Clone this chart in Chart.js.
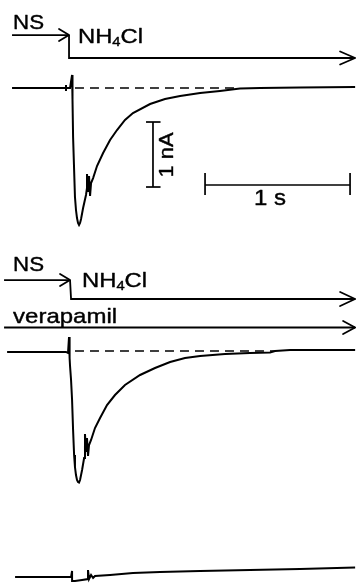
<!DOCTYPE html>
<html>
<head>
<meta charset="utf-8">
<script src="https://cdn.jsdelivr.net/npm/chart.js@4"></script>
<style>
html,body{margin:0;padding:0;background:#fff;}
#wrap{width:356px;height:583px;position:relative;}
</style>
</head>
<body>
<div id="wrap"><canvas id="c"></canvas></div>
<script>
// ---- Data: time (s, 0 = solution change) and current (nA, relative to each trace's baseline)
const trace1T = [-0.400,-0.028,-0.028,-0.028,-0.028,0.000,0.014,0.017,0.021,0.034,0.041,0.048,0.055,0.062,0.069,0.076,0.090,0.110,0.117,0.117,0.124,0.131,0.138,0.145,0.159,0.186,0.228,0.276,0.324,0.379,0.434,0.552,0.655,0.759,0.897,1.034,1.172,1.310,1.586,1.966];
const trace1I = [0,0,0.046,-0.046,0,0,0.200,-0.185,-0.754,-1.677,-1.877,-2.000,-2.077,-2.108,-2.077,-2.015,-1.846,-1.646,-1.538,-1.323,-1.600,-1.354,-1.662,-1.462,-1.385,-1.200,-1.000,-0.800,-0.646,-0.492,-0.385,-0.246,-0.169,-0.123,-0.077,-0.046,-0.008,0,0.008,0.015];

const trace2T = [-0.434,-0.028,-0.014,-0.007,-0.003,0.000,0.007,0.014,0.021,0.028,0.034,0.041,0.048,0.055,0.062,0.069,0.083,0.097,0.103,0.110,0.117,0.124,0.131,0.145,0.172,0.207,0.255,0.310,0.379,0.483,0.586,0.690,0.793,0.897,1.069,1.241,1.379,1.414,1.517,1.966];
const trace2I = [-0.015,-0.015,-0.031,0.215,-0.108,-0.231,-0.446,-0.754,-1.215,-1.600,-1.785,-1.908,-1.985,-2.015,-2.023,-1.985,-1.831,-1.646,-1.277,-1.554,-1.338,-1.615,-1.446,-1.369,-1.185,-1.031,-0.831,-0.677,-0.523,-0.369,-0.262,-0.169,-0.108,-0.077,-0.046,-0.031,-0.023,0,0.015,0.015];

const trace3T = [-0.379,0.007,0.014,0.014,0.034,0.083,0.124,0.124,0.131,0.145,0.159,0.172,0.276,0.434,0.621,0.897,1.241,1.586,1.966];
const trace3I = [0,0,0.092,-0.062,-0.062,-0.046,-0.031,0.108,-0.031,0.031,-0.015,0.015,0.031,0.062,0.077,0.092,0.108,0.123,0.146];

// Dashed reference (baseline) segments
const dash1T = [0.034,1.172];
const dash2T = [0.034,1.414];

// Solution-change bars (time, level above baseline)
const ns1T = [-0.400,-0.007];      const ns1L = [0.815,0.815];
const nh1T = [-0.007,-0.007,1.966]; const nh1L = [0.815,0.462,0.462];
const ns2T = [-0.455,0.000];       const ns2L = [1.092,1.092];
const nh2T = [0.000,0.007,1.966];   const nh2L = [1.092,0.800,0.800];
const verT = [-0.455,1.966];       const verL = [0.362,0.362];

// Scale bars: 1 nA and 1 s
const scaleNA = 1;
const scaleS = 1;

// Text labels
const labels1 = ["NS","NH","4","Cl"];
const verLabel = "verapamil";
const scaleLabels = ["1 nA","1 s"];

// ---- Layout (not data)
const offsets = [0,-4.046,-7.523];
const xMin=-0.483, xMax=1.972, yMin=-7.615, yMax=1.354;

function pts(T,V,off){ return T.map((t,k)=>({x:t,y:V[k]+off})); }
function line(data,w,dash){ return {data,showLine:true,borderColor:'#000',backgroundColor:'#000',borderWidth:w,pointRadius:0,tension:0,borderDash:dash||[],fill:false}; }

const vBarT = 0.572, vBarTop = -0.523, hBarT0 = 0.931, hBarL = -1.492;

const datasets = [
  line(pts(trace1T,trace1I,offsets[0]),2),
  line(pts(trace2T,trace2I,offsets[1]),2),
  line(pts(trace3T,trace3I,offsets[2]),2),
  line(pts(dash1T,[0,0],offsets[0]),1.5,[9,6]),
  line(pts(dash2T,[0,0],offsets[1]),1.5,[9,6]),
  line(pts(ns1T,ns1L,offsets[0]),1.8),
  line(pts(nh1T,nh1L,offsets[0]),1.8),
  line(pts(ns2T,ns2L,offsets[1]),1.8),
  line(pts(nh2T,nh2L,offsets[1]),1.8),
  line(pts(verT,verL,offsets[1]),1.8),
  // vertical 1 nA bar with end ticks
  line([{x:vBarT-0.048,y:vBarTop},{x:vBarT+0.052,y:vBarTop}],1.7),
  line([{x:vBarT,y:vBarTop},{x:vBarT,y:vBarTop-scaleNA}],1.7),
  line([{x:vBarT-0.048,y:vBarTop-scaleNA},{x:vBarT+0.052,y:vBarTop-scaleNA}],1.7),
  // horizontal 1 s bar with end ticks
  line([{x:hBarT0,y:hBarL},{x:hBarT0+scaleS,y:hBarL}],1.7),
  line([{x:hBarT0,y:hBarL+0.185},{x:hBarT0,y:hBarL-0.154}],1.7),
  line([{x:hBarT0+scaleS,y:hBarL+0.185},{x:hBarT0+scaleS,y:hBarL-0.154}],1.7)
];

const arrows = [
  {T:ns1T,L:ns1L,off:offsets[0],len:10,half:6},
  {T:nh1T,L:nh1L,off:offsets[0],len:15,half:6.5},
  {T:ns2T,L:ns2L,off:offsets[1],len:10,half:6},
  {T:nh2T,L:nh2L,off:offsets[1],len:15,half:7},
  {T:verT,L:verL,off:offsets[1],len:12,half:6.5}
];

const FONT = '"Liberation Sans", Arial, sans-serif';

const overlay = {
  id:'overlay',
  afterDatasetsDraw(chart){
    const {ctx, scales:{x,y}} = chart;
    ctx.save();
    ctx.strokeStyle='#000'; ctx.fillStyle='#000';
    ctx.lineWidth=1.8; ctx.lineCap='round'; ctx.lineJoin='round';
    arrows.forEach(a=>{
      const n=a.T.length-1;
      const px=x.getPixelForValue(a.T[n]), py=y.getPixelForValue(a.L[n]+a.off);
      ctx.beginPath(); ctx.moveTo(px-a.len,py-a.half); ctx.lineTo(px,py); ctx.lineTo(px-a.len,py+a.half); ctx.stroke();
    });
    function txt(str,t,v,size,targetW){
      const px=x.getPixelForValue(t), py=y.getPixelForValue(v);
      ctx.save(); ctx.font=size+'px '+FONT; ctx.textBaseline='alphabetic';
      const w=ctx.measureText(str).width; const sx=targetW/w;
      ctx.translate(px,py); ctx.scale(sx,1);
      ctx.lineWidth=0.4; ctx.strokeText(str,0,0);
      ctx.fillText(str,0,0); ctx.restore();
    }
    function nh4cl(t,v,targetW){
      const px=x.getPixelForValue(t), py=y.getPixelForValue(v);
      ctx.save();
      ctx.font='21px '+FONT; const w1=ctx.measureText(labels1[1]).width, w3=ctx.measureText(labels1[3]).width;
      ctx.font='13px '+FONT; const w2=ctx.measureText(labels1[2]).width;
      const sx=targetW/(w1+w2+w3);
      ctx.translate(px,py); ctx.scale(sx,1); ctx.lineWidth=0.4;
      ctx.font='21px '+FONT; ctx.fillText(labels1[1],0,0); ctx.strokeText(labels1[1],0,0);
      ctx.font='13px '+FONT; ctx.fillText(labels1[2],w1,3); ctx.strokeText(labels1[2],w1,3);
      ctx.font='21px '+FONT; ctx.fillText(labels1[3],w1+w2,0); ctx.strokeText(labels1[3],w1+w2,0);
      ctx.restore();
    }
    // top panel labels
    txt(labels1[0],-0.393,0.908+offsets[0],21,31);
    nh4cl(0.055,0.692+offsets[0],65);
    // middle panel labels
    txt(labels1[0],-0.393,1.231+offsets[1],21,31);
    nh4cl(0.083,0.985+offsets[1],65);
    txt(verLabel,-0.393,0.431+offsets[1],21,104);
    // scale labels
    txt(scaleLabels[1],1.269,-1.8,22,32);
    {
      const px=x.getPixelForValue(0.669), py=y.getPixelForValue(-1.031);
      ctx.save(); ctx.font='21px '+FONT;
      const w=ctx.measureText(scaleLabels[0]).width;
      ctx.translate(px,py); ctx.rotate(-Math.PI/2); ctx.scale(45/w,1);
      ctx.textAlign='center'; ctx.textBaseline='middle'; ctx.lineWidth=0.4;
      ctx.fillText(scaleLabels[0],0,0); ctx.strokeText(scaleLabels[0],0,0); ctx.restore();
    }
    ctx.restore();
  }
};

new Chart(document.getElementById('c'),{
  type:'scatter',
  data:{datasets},
  options:{
    responsive:true, maintainAspectRatio:false, animation:false,
    layout:{padding:0},
    plugins:{legend:{display:false},tooltip:{enabled:false}},
    scales:{
      x:{type:'linear',display:false,min:xMin,max:xMax},
      y:{type:'linear',display:false,min:yMin,max:yMax}
    }
  },
  plugins:[overlay]
});
</script>
</body>
</html>
